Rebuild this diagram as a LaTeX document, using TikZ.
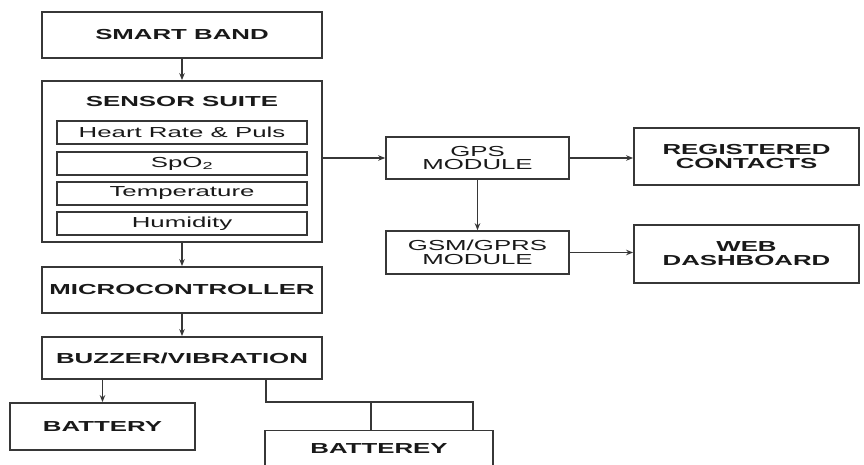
\documentclass[tikz,border=0pt]{standalone}
\usepackage{fontspec}
\setmainfont{Liberation Sans}[FakeStretch=1.78]
\usetikzlibrary{arrows.meta}
\definecolor{lc}{RGB}{55,55,55}
\definecolor{tc}{RGB}{25,25,25}
\tikzset{
  blk/.style={draw=lc, line width=1.8pt, inner sep=0pt, text=tc, align=center,
    font=\fontsize{14.5}{14}\selectfont\bfseries},
  mod/.style={draw=lc, line width=1.6pt, inner sep=0pt, text=tc, align=center,
    font=\fontsize{14.5}{13.5}\selectfont},
  sens/.style={draw=lc, line width=1.4pt, inner sep=0pt, text=tc,
    minimum width=250pt, minimum height=23pt, font=\fontsize{14.5}{14}\selectfont},
  conn/.style={draw=lc, line width=1.7pt},
  arr/.style={conn, -{Stealth[length=7pt,width=5.5pt]}}
}
\begin{document}
\begin{tikzpicture}[x=1pt,y=-1pt]
\useasboundingbox (0,0) rectangle (864,465);
\clip (0,0) rectangle (864,465);
\fill[white] (0,0) rectangle (864,465);
% left column
\node[blk, minimum width=280pt, minimum height=46pt] (band) at (182,35) {SMART BAND};
\node[blk, minimum width=280pt, minimum height=161pt] (sensor) at (182,161.5) {};
\node[text=tc, font=\fontsize{14.5}{14}\selectfont\bfseries, inner sep=0pt] (stitle) at (182,102) {SENSOR SUITE};
\node[sens] (heart) at (182,132.5) {Heart Rate \& Puls};
\node[sens] (spo) at (182,163.5) {SpO\textsubscript{2}};
\node[sens] (temp) at (182,193.5) {Temperature};
\node[sens] (hum) at (182,223.5) {Humidity};
\node[blk, minimum width=280pt, minimum height=46pt] (micro) at (182,290) {MICROCONTROLLER};
\node[blk, minimum width=280pt, minimum height=42pt] (buzz) at (182,358) {BUZZER/VIBRATION};
\node[blk, minimum width=185pt, minimum height=47pt] (batt) at (102.5,426.5) {BATTERY};
\node[blk, minimum width=228pt, minimum height=36pt] (batt2) at (379,448.5) {BATTEREY};
% right side
\node[mod, minimum width=183pt, minimum height=42pt] (gps) at (477.5,158) {GPS\\MODULE};
\node[mod, minimum width=183pt, minimum height=43pt] (gsm) at (477.5,252.5) {GSM/GPRS\\MODULE};
\node[blk, minimum width=225pt, minimum height=57pt] (reg) at (746.5,156.5) {REGISTERED\\CONTACTS};
\node[blk, minimum width=225pt, minimum height=58pt] (web) at (746.5,254) {WEB\\DASHBOARD};
% connectors
\draw[arr] (band.south) -- (sensor.north);
\draw[arr] (sensor.south) -- (micro.north);
\draw[arr] (micro.south) -- (buzz.north);
\draw[arr] (batt.north |- buzz.south) -- (batt.north);
\draw[arr] (sensor.east |- gps.west) -- (gps.west);
\draw[arr] (gps.east) -- (gps.east -| reg.west);
\draw[arr] (gps.south) -- (gsm.north);
\draw[arr] (gsm.east) -- (gsm.east -| web.west);
\coordinate (j1) at (266,402);
\coordinate (j2) at (371,402);
\coordinate (j3) at (473,402);
\draw[conn] (buzz.south -| j1) -- (j1) -- (j3) -- (j3 |- batt2.north);
\draw[conn] (j2) -- (j2 |- batt2.north);
\end{tikzpicture}
\end{document}
